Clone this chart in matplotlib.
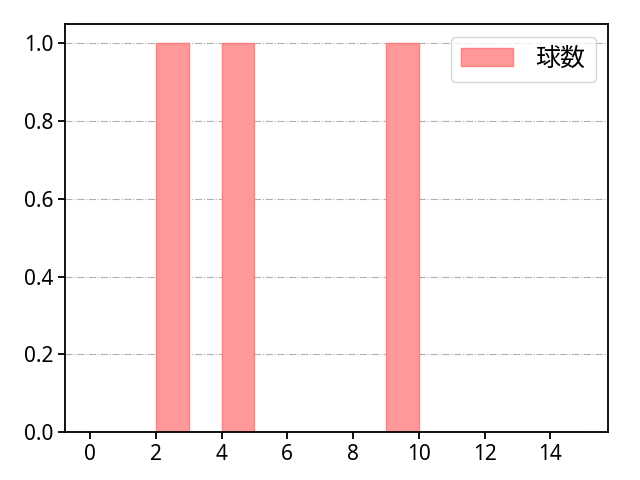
import matplotlib
matplotlib.use("Agg")
import matplotlib.pyplot as plt

plt.rcParams['font.family'] = ['Noto Sans', 'Noto Sans CJK JP']
plt.rcParams['font.size'] = 15
plt.rcParams['axes.linewidth'] = 1.3

# pitch counts observed (one each)
pitch_values = [2, 4, 9]
bin_edges = list(range(0, 16))

fig, ax = plt.subplots(figsize=(6.4, 4.8), dpi=100)
ax.hist(pitch_values, bins=bin_edges, color='#ff9999', edgecolor='#ff7f7f',
        linewidth=1, label='球数')
ax.set_xticks(range(0, 15, 2))
ax.set_ylim(0, 1.05)
ax.yaxis.grid(True, linestyle='-.', color='#b0b0b0', linewidth=0.8)
ax.set_axisbelow(True)
ax.tick_params(width=1.3, length=5)
ax.legend(loc='upper right', fontsize=18, handlelength=2.1, handletextpad=0.9)
fig.subplots_adjust(left=0.102, right=0.95, bottom=0.1, top=0.95)
fig.savefig("out.png", dpi=100)
